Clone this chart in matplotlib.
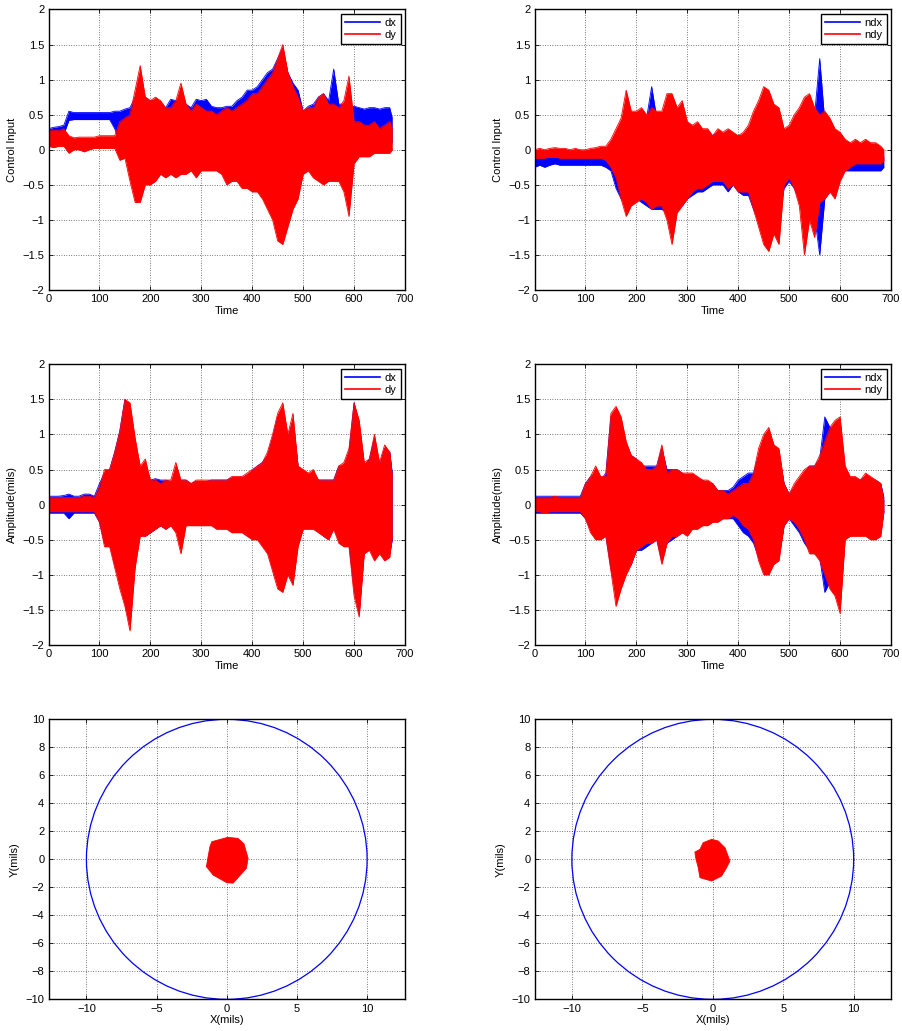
import numpy as np
import matplotlib
matplotlib.use("Agg")
import matplotlib.pyplot as plt
from matplotlib.patches import Circle
from matplotlib.ticker import FuncFormatter, MultipleLocator

plt.rcParams['font.family'] = ['Liberation Sans', 'DejaVu Sans']
plt.rcParams['font.size'] = 8

# time samples (envelopes read every 10 time units)
t_left = np.append(np.arange(0, 671, 10), 675)
t_right = np.append(np.arange(0, 681, 10), 686)

# --- top left: control input dx / dy (upper, lower envelope) ---
ci_dy_hi = [0.28, 0.28, 0.27, 0.30, 0.20, 0.17, 0.18, 0.18, 0.18, 0.18,
            0.20, 0.20, 0.20, 0.20, 0.40, 0.45, 0.50, 0.85, 1.20, 0.75,
            0.70, 0.75, 0.70, 0.60, 0.60, 0.70, 0.95, 0.65, 0.55, 0.65,
            0.60, 0.55, 0.55, 0.50, 0.55, 0.60, 0.55, 0.60, 0.65, 0.70,
            0.80, 0.80, 0.90, 1.00, 1.10, 1.30, 1.50, 1.10, 0.90, 0.75,
            0.55, 0.60, 0.60, 0.75, 0.80, 0.65, 0.65, 0.60, 0.70, 1.05,
            0.40, 0.40, 0.35, 0.35, 0.40, 0.30, 0.35, 0.40, 0.30]
ci_dy_lo = [0.05, 0.03, 0.05, 0.05, -0.05, 0.00, 0.00, -0.03, 0.00, 0.02,
            0.02, 0.02, 0.02, 0.02, -0.15, -0.12, -0.45, -0.75, -0.75, -0.50,
            -0.50, -0.45, -0.35, -0.40, -0.35, -0.40, -0.35, -0.35, -0.30, -0.40,
            -0.30, -0.30, -0.30, -0.30, -0.35, -0.50, -0.45, -0.45, -0.55, -0.55,
            -0.60, -0.60, -0.70, -0.85, -1.00, -1.30, -1.35, -1.10, -0.85, -0.70,
            -0.35, -0.30, -0.40, -0.45, -0.50, -0.45, -0.45, -0.45, -0.60, -0.95,
            -0.20, -0.10, -0.10, -0.10, -0.05, -0.05, -0.05, -0.05, 0.00]
ci_dx_hi = [0.30, 0.32, 0.33, 0.35, 0.55, 0.53, 0.53, 0.53, 0.53, 0.53,
            0.53, 0.53, 0.53, 0.55, 0.55, 0.58, 0.60, 0.75, 0.80, 0.75,
            0.70, 0.70, 0.65, 0.60, 0.72, 0.70, 0.75, 0.65, 0.60, 0.72,
            0.70, 0.72, 0.62, 0.60, 0.60, 0.62, 0.62, 0.70, 0.75, 0.85,
            0.85, 0.90, 1.00, 1.10, 1.15, 1.30, 1.45, 1.10, 0.95, 0.85,
            0.55, 0.62, 0.65, 0.75, 0.80, 0.70, 1.15, 0.65, 0.65, 0.60,
            0.62, 0.60, 0.58, 0.60, 0.60, 0.58, 0.60, 0.60, 0.45]
ci_dx_lo = [0.15, 0.20, 0.22, 0.22, 0.42, 0.43, 0.43, 0.43, 0.43, 0.43,
            0.43, 0.43, 0.43, 0.30, 0.10, 0.05, -0.30, -0.60, -0.60, -0.40,
            -0.40, -0.35, -0.30, -0.30, -0.30, -0.30, -0.30, -0.30, -0.25, -0.30,
            -0.25, -0.25, -0.25, -0.25, -0.30, -0.40, -0.40, -0.40, -0.45, -0.45,
            -0.50, -0.50, -0.60, -0.75, -0.90, -1.10, -1.20, -1.00, -0.75, -0.60,
            -0.30, -0.25, -0.35, -0.40, -0.40, -0.40, -0.40, -0.40, -0.50, -0.80,
            0.05, 0.10, 0.10, 0.10, 0.10, 0.10, 0.10, 0.10, 0.10]

# --- top right: control input ndx / ndy ---
ci_ndy_hi = [0.00, 0.02, 0.00, 0.02, 0.03, 0.02, 0.02, 0.00, 0.02, 0.00,
             0.00, 0.02, 0.03, 0.05, 0.05, 0.15, 0.30, 0.45, 0.85, 0.55,
             0.55, 0.60, 0.50, 0.60, 0.55, 0.55, 0.80, 0.80, 0.60, 0.70,
             0.40, 0.35, 0.40, 0.30, 0.30, 0.20, 0.30, 0.25, 0.30, 0.25,
             0.20, 0.25, 0.35, 0.55, 0.70, 0.90, 0.85, 0.65, 0.60, 0.30,
             0.35, 0.50, 0.60, 0.75, 0.80, 0.60, 0.50, 0.55, 0.45, 0.30,
             0.25, 0.15, 0.10, 0.15, 0.10, 0.15, 0.10, 0.10, 0.05, 0.00]
ci_ndy_lo = [-0.12, -0.12, -0.12, -0.10, -0.10, -0.12, -0.12, -0.12, -0.12, -0.12,
             -0.12, -0.12, -0.12, -0.12, -0.15, -0.25, -0.40, -0.70, -0.95, -0.80,
             -0.75, -0.70, -0.75, -0.85, -0.80, -0.80, -1.00, -1.35, -0.90, -0.80,
             -0.70, -0.60, -0.55, -0.55, -0.50, -0.45, -0.45, -0.45, -0.55, -0.50,
             -0.60, -0.60, -0.60, -0.85, -1.10, -1.35, -1.45, -1.20, -1.35, -0.50,
             -0.40, -0.55, -0.80, -1.50, -1.00, -1.25, -0.75, -0.70, -0.60, -0.70,
             -0.45, -0.30, -0.25, -0.20, -0.20, -0.20, -0.20, -0.20, -0.20, -0.15]
ci_ndx_hi = [-0.12, -0.10, -0.10, -0.10, -0.10, -0.10, -0.10, -0.10, -0.10, -0.10,
             -0.10, -0.10, -0.10, -0.08, -0.05, 0.05, 0.20, 0.35, 0.45, 0.45,
             0.40, 0.45, 0.45, 0.90, 0.45, 0.50, 0.50, 0.50, 0.45, 0.45,
             0.35, 0.30, 0.25, 0.25, 0.20, 0.20, 0.25, 0.20, 0.25, 0.20,
             0.20, 0.20, 0.30, 0.40, 0.55, 0.70, 0.70, 0.50, 0.45, 0.20,
             0.25, 0.35, 0.45, 0.55, 0.55, 0.50, 1.30, 0.40, 0.35, 0.20,
             0.10, 0.00, 0.00, 0.00, 0.00, 0.00, 0.00, 0.00, 0.00, -0.10]
ci_ndx_lo = [-0.25, -0.22, -0.25, -0.22, -0.20, -0.22, -0.22, -0.22, -0.22, -0.22,
             -0.22, -0.22, -0.22, -0.22, -0.25, -0.30, -0.55, -0.70, -0.75, -0.75,
             -0.70, -0.75, -0.80, -0.85, -0.85, -0.85, -0.90, -0.95, -0.80, -0.80,
             -0.70, -0.65, -0.60, -0.60, -0.55, -0.50, -0.50, -0.50, -0.60, -0.50,
             -0.60, -0.65, -0.65, -0.85, -1.00, -1.10, -1.20, -1.00, -0.95, -0.55,
             -0.45, -0.55, -0.70, -1.00, -0.90, -0.95, -1.50, -0.70, -0.60, -0.60,
             -0.40, -0.30, -0.30, -0.30, -0.30, -0.30, -0.30, -0.30, -0.30, -0.25]

# --- middle left: amplitude dx / dy ---
am_dy_hi = [0.10, 0.10, 0.10, 0.10, 0.10, 0.10, 0.10, 0.12, 0.12, 0.10,
            0.25, 0.50, 0.50, 0.75, 1.05, 1.50, 1.45, 0.95, 0.55, 0.65,
            0.35, 0.35, 0.30, 0.35, 0.35, 0.60, 0.35, 0.35, 0.30, 0.35,
            0.35, 0.35, 0.35, 0.35, 0.35, 0.35, 0.40, 0.40, 0.40, 0.45,
            0.50, 0.55, 0.60, 0.75, 1.00, 1.30, 1.45, 1.00, 1.30, 0.55,
            0.50, 0.45, 0.50, 0.35, 0.35, 0.35, 0.35, 0.55, 0.60, 0.80,
            1.45, 1.20, 0.60, 0.65, 1.00, 0.60, 0.85, 0.75, 0.40]
am_dy_lo = [-0.10, -0.10, -0.10, -0.10, -0.10, -0.10, -0.10, -0.10, -0.10, -0.10,
            -0.25, -0.60, -0.60, -0.90, -1.20, -1.45, -1.80, -0.90, -0.45, -0.45,
            -0.40, -0.35, -0.30, -0.35, -0.30, -0.40, -0.70, -0.30, -0.30, -0.30,
            -0.30, -0.30, -0.30, -0.35, -0.35, -0.35, -0.40, -0.40, -0.40, -0.45,
            -0.50, -0.50, -0.60, -0.70, -0.95, -1.20, -1.25, -1.00, -1.15, -0.60,
            -0.35, -0.35, -0.35, -0.40, -0.45, -0.50, -0.35, -0.55, -0.60, -0.60,
            -1.30, -1.60, -0.70, -0.65, -0.80, -0.70, -0.80, -0.75, -0.45]
am_dx_hi = [0.12, 0.12, 0.12, 0.13, 0.15, 0.12, 0.12, 0.15, 0.15, 0.12,
            0.30, 0.45, 0.50, 0.75, 1.05, 1.50, 1.40, 0.90, 0.45, 0.50,
            0.35, 0.37, 0.35, 0.35, 0.33, 0.35, 0.35, 0.35, 0.30, 0.33,
            0.33, 0.33, 0.35, 0.35, 0.35, 0.35, 0.38, 0.38, 0.38, 0.42,
            0.48, 0.55, 0.60, 0.70, 0.95, 1.25, 1.35, 0.95, 1.20, 0.55,
            0.45, 0.42, 0.45, 0.35, 0.35, 0.35, 0.35, 0.55, 0.55, 0.75,
            1.45, 1.15, 0.55, 0.65, 0.95, 0.55, 0.80, 0.75, 0.45]
am_dx_lo = [-0.12, -0.12, -0.12, -0.12, -0.20, -0.12, -0.12, -0.12, -0.12, -0.12,
            -0.25, -0.55, -0.55, -0.85, -1.10, -1.40, -1.70, -0.85, -0.40, -0.45,
            -0.40, -0.35, -0.30, -0.35, -0.30, -0.35, -0.40, -0.30, -0.28, -0.28,
            -0.28, -0.28, -0.28, -0.33, -0.33, -0.33, -0.38, -0.38, -0.38, -0.42,
            -0.48, -0.48, -0.55, -0.65, -0.90, -1.10, -1.20, -0.95, -1.10, -0.55,
            -0.33, -0.33, -0.33, -0.38, -0.45, -0.50, -0.33, -0.50, -0.55, -0.55,
            -1.20, -1.55, -0.65, -0.55, -0.75, -0.65, -0.75, -0.70, -0.50]

# --- middle right: amplitude ndx / ndy ---
am_ndy_hi = [0.10, 0.10, 0.10, 0.10, 0.12, 0.10, 0.10, 0.10, 0.10, 0.10,
             0.30, 0.40, 0.55, 0.40, 0.40, 1.30, 1.40, 1.25, 0.90, 0.70,
             0.65, 0.60, 0.50, 0.50, 0.55, 0.85, 0.45, 0.50, 0.50, 0.45,
             0.45, 0.45, 0.40, 0.35, 0.35, 0.30, 0.20, 0.20, 0.15, 0.20,
             0.25, 0.30, 0.30, 0.45, 0.80, 1.00, 1.10, 0.85, 0.80, 0.30,
             0.15, 0.30, 0.40, 0.50, 0.55, 0.55, 0.70, 0.90, 1.10, 1.20,
             1.25, 0.55, 0.40, 0.40, 0.35, 0.45, 0.40, 0.35, 0.30, 0.05]
am_ndy_lo = [-0.10, -0.10, -0.12, -0.10, -0.10, -0.10, -0.10, -0.10, -0.10, -0.10,
             -0.20, -0.40, -0.50, -0.50, -0.45, -0.95, -1.45, -1.20, -1.00, -0.85,
             -0.65, -0.60, -0.55, -0.55, -0.50, -0.85, -0.55, -0.45, -0.45, -0.40,
             -0.45, -0.35, -0.35, -0.30, -0.30, -0.25, -0.25, -0.20, -0.20, -0.15,
             -0.20, -0.30, -0.35, -0.50, -0.80, -1.00, -1.00, -0.85, -0.80, -0.30,
             -0.20, -0.25, -0.35, -0.50, -0.70, -0.70, -0.80, -1.00, -1.20, -1.30,
             -1.55, -0.50, -0.45, -0.45, -0.45, -0.45, -0.50, -0.50, -0.45, -0.10]
am_ndx_hi = [0.12, 0.12, 0.12, 0.12, 0.12, 0.12, 0.12, 0.12, 0.12, 0.12,
             0.30, 0.40, 0.45, 0.35, 0.45, 1.25, 1.35, 1.15, 0.85, 0.70,
             0.65, 0.55, 0.55, 0.55, 0.55, 0.80, 0.50, 0.50, 0.50, 0.45,
             0.40, 0.40, 0.35, 0.35, 0.30, 0.30, 0.20, 0.20, 0.20, 0.25,
             0.35, 0.40, 0.45, 0.45, 0.70, 0.95, 1.05, 0.85, 0.75, 0.30,
             0.15, 0.25, 0.35, 0.45, 0.55, 0.55, 0.65, 1.25, 1.10, 1.10,
             1.20, 0.45, 0.35, 0.35, 0.35, 0.40, 0.35, 0.35, 0.30, 0.10]
am_ndx_lo = [-0.12, -0.12, -0.12, -0.12, -0.12, -0.12, -0.12, -0.12, -0.12, -0.12,
             -0.20, -0.35, -0.45, -0.45, -0.45, -0.90, -1.25, -1.10, -0.95, -0.85,
             -0.65, -0.65, -0.60, -0.55, -0.50, -0.80, -0.55, -0.50, -0.45, -0.40,
             -0.40, -0.35, -0.30, -0.30, -0.25, -0.25, -0.20, -0.20, -0.20, -0.20,
             -0.30, -0.40, -0.45, -0.55, -0.75, -0.95, -1.00, -0.75, -0.75, -0.30,
             -0.20, -0.30, -0.40, -0.55, -0.65, -0.70, -0.75, -1.25, -1.10, -1.20,
             -1.45, -0.45, -0.40, -0.40, -0.40, -0.40, -0.45, -0.45, -0.40, -0.10]

# --- bottom: orbit outlines (X, Y in mils) and clearance circle ---
orbit_x = [-1.07, 0.07, 0.80, 1.23, 1.52, 1.40, 0.45, 0.00, -0.97, -1.45, -1.33, -1.20]
orbit_y = [1.26, 1.57, 1.50, 1.10, 0.07, -0.64, -1.70, -1.67, -1.12, -0.52, 0.19, 0.90]
norbit_x = [-0.08, 0.39, 0.87, 1.22, 0.98, 0.63, -0.08, -0.91, -1.03, -1.20, -1.27, -0.91, -0.68]
norbit_y = [1.43, 1.31, 0.83, -0.12, -0.60, -1.19, -1.55, -1.31, -0.60, 0.05, 0.52, 0.71, 1.19]
clearance = 10

BLUE = '#0000ff'
RED = '#ff0000'


def fmt(v, pos):
    return ('%g' % v).replace('-', '\u2212')


def matlab_axes(ax):
    ax.tick_params(direction='in', top=True, right=True, length=3, width=0.6,
                   labelsize=8, pad=3)
    ax.grid(True, linestyle=(0, (1, 2.5)), color='black', linewidth=0.5)
    for s in ax.spines.values():
        s.set_linewidth(1.0)
        s.set_zorder(5)
    ax.xaxis.set_major_formatter(FuncFormatter(fmt))
    ax.yaxis.set_major_formatter(FuncFormatter(fmt))
    ax.set_axisbelow(True)


def signal_panel(ax, t, bhi, blo, rhi, rlo, names, ylabel):
    # blue series first, red drawn over it (as in the original plot order)
    ax.fill_between(t, blo, bhi, color=BLUE, linewidth=0, zorder=2.0)
    ax.plot(t, bhi, color=BLUE, lw=0.6, zorder=2.1)
    ax.plot(t, blo, color=BLUE, lw=0.6, zorder=2.1)
    ax.fill_between(t, rlo, rhi, color=RED, linewidth=0, zorder=2.2)
    ax.plot(t, rhi, color=RED, lw=0.6, zorder=2.3)
    ax.plot(t, rlo, color=RED, lw=0.6, zorder=2.3)
    ax.plot([], [], color=BLUE, lw=1.2, label=names[0])
    ax.plot([], [], color=RED, lw=1.2, label=names[1])
    ax.set_xlim(0, 700)
    ax.set_ylim(-2, 2)
    ax.xaxis.set_major_locator(MultipleLocator(100))
    ax.yaxis.set_major_locator(MultipleLocator(0.5))
    ax.set_xlabel('Time', labelpad=1)
    ax.set_ylabel(ylabel, labelpad=4)
    matlab_axes(ax)
    leg = ax.legend(loc='upper right', fancybox=False, edgecolor='black',
                    framealpha=1, fontsize=8, handlelength=3.2, borderpad=0.35,
                    labelspacing=0.2, borderaxespad=0.4, handletextpad=0.4)
    leg.get_frame().set_linewidth(1.0)
    leg.set_zorder(6)


def orbit_panel(ax, ox, oy, xlim):
    ax.add_patch(Circle((0, 0), clearance, fill=False, edgecolor=BLUE, lw=0.9, zorder=2))
    ax.fill(ox, oy, color=RED, lw=0.6, zorder=2.2)
    ax.set_xlim(-xlim, xlim)
    ax.set_ylim(-10, 10)
    ax.xaxis.set_major_locator(MultipleLocator(5))
    ax.yaxis.set_major_locator(MultipleLocator(2))
    ax.set_xlabel('X(mils)', labelpad=1)
    ax.set_ylabel('Y(mils)', labelpad=4)
    matlab_axes(ax)


fig = plt.figure(figsize=(9.02, 10.31), dpi=100)

xl, xr, w = 0.0538, 0.5926, 0.3952
rows = [(0.7187, 0.2721), (0.3744, 0.2723), (0.0307, 0.2716)]

ax1 = fig.add_axes([xl, rows[0][0], w, rows[0][1]])
signal_panel(ax1, t_left, ci_dx_hi, ci_dx_lo, ci_dy_hi, ci_dy_lo, ['dx', 'dy'], 'Control Input')
ax2 = fig.add_axes([xr, rows[0][0], w, rows[0][1]])
signal_panel(ax2, t_right, ci_ndx_hi, ci_ndx_lo, ci_ndy_hi, ci_ndy_lo, ['ndx', 'ndy'], 'Control Input')
ax3 = fig.add_axes([xl, rows[1][0], w, rows[1][1]])
signal_panel(ax3, t_left, am_dx_hi, am_dx_lo, am_dy_hi, am_dy_lo, ['dx', 'dy'], 'Amplitude(mils)')
ax4 = fig.add_axes([xr, rows[1][0], w, rows[1][1]])
signal_panel(ax4, t_right, am_ndx_hi, am_ndx_lo, am_ndy_hi, am_ndy_lo, ['ndx', 'ndy'], 'Amplitude(mils)')
ax5 = fig.add_axes([xl, rows[2][0], w, rows[2][1]])
orbit_panel(ax5, orbit_x, orbit_y, 12.7)
ax6 = fig.add_axes([xr, rows[2][0], w, rows[2][1]])
orbit_panel(ax6, norbit_x, norbit_y, 12.65)

fig.savefig('out.png', dpi=100)
